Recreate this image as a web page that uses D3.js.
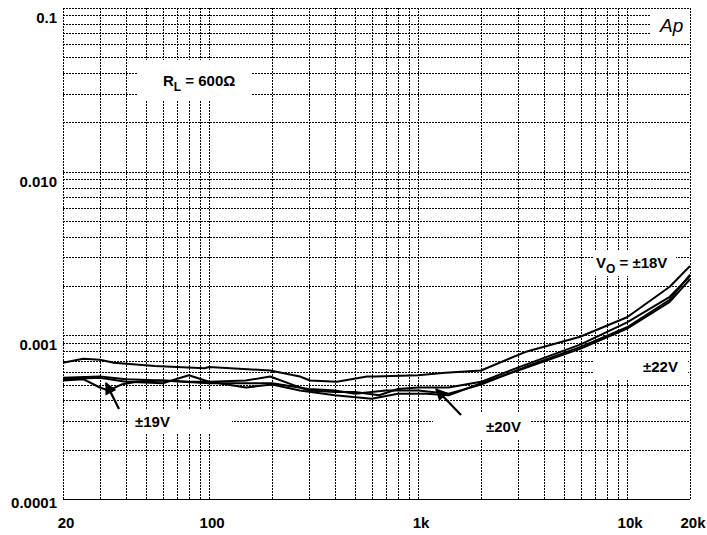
<!DOCTYPE html>
<html>
<head>
<meta charset="utf-8">
<script src="https://cdn.jsdelivr.net/npm/d3@7"></script>
<style>
  body { margin: 0; background: #fff; }
  svg { display: block; font-family: "Liberation Sans", Arial, sans-serif; }
  .grid line { stroke: #000; stroke-width: 1; stroke-dasharray: 1.5,1.5; shape-rendering: crispEdges; }
  .tick-label { font-size: 15px; font-weight: bold; fill: #000; }
  .note { font-size: 15px; font-weight: bold; fill: #000; }
  .curve { fill: none; stroke: #000; stroke-width: 2; stroke-linejoin: round; }
</style>
</head>
<body>
<script>
// THD+N vs frequency, RL = 600 ohm, four supply voltages

// frequencies (Hz) and THD+N readings for each supply
const freq18 = [20, 25, 30, 35, 55, 95, 100, 196, 272, 304, 409, 570, 622, 1000, 1350, 2000, 3250, 5960, 10000, 16000, 20000]
const thd18  = [0.00068, 0.00072, 0.00071, 0.00068, 0.00065, 0.00063, 0.00064, 0.00061, 0.00056, 0.00053, 0.00052, 0.00056, 0.00056, 0.00057, 0.00059, 0.00061, 0.00079, 0.00098, 0.00129, 0.00198, 0.00265]

const freq19 = [20, 25, 30, 33, 38, 45, 60, 80, 100, 150, 200, 272, 400, 600, 800, 1100, 1400, 2000, 3250, 6000, 10000, 16000, 20000]
const thd19  = [0.00053, 0.00054, 0.00048, 0.00046, 0.0005, 0.00052, 0.00053, 0.00052, 0.00052, 0.00048, 0.0005, 0.00046, 0.00043, 0.00041, 0.00044, 0.00044, 0.00043, 0.00051, 0.00063, 0.00083, 0.0011, 0.0016, 0.0022]

const freq20 = [20, 30, 40, 60, 80, 100, 150, 196, 250, 300, 400, 500, 650, 800, 1000, 1400, 2000, 3250, 6000, 10000, 16000, 20000]
const thd20  = [0.00054, 0.00055, 0.00052, 0.00051, 0.00057, 0.00052, 0.00053, 0.00056, 0.0005, 0.00046, 0.00045, 0.00045, 0.00043, 0.00047, 0.00048, 0.00048, 0.00052, 0.00066, 0.00088, 0.0012, 0.00172, 0.0023]

const freq22 = [20, 30, 40, 60, 100, 150, 200, 300, 400, 500, 700, 1000, 1400, 2000, 3250, 6000, 10000, 16000, 20000]
const thd22  = [0.00055, 0.00056, 0.00054, 0.00053, 0.00051, 0.00051, 0.00051, 0.00047, 0.00046, 0.00044, 0.00046, 0.00046, 0.00044, 0.0005, 0.00064, 0.00085, 0.00112, 0.00165, 0.00235]

const xTickValues = [20, 100, 1000, 10000, 20000]
const xTickLabels = ["20", "100", "1k", "10k", "20k"]
const yTickValues = [0.1, 0.01, 0.001, 0.0001]
const yTickLabels = ["0.1", "0.010", "0.001", "0.0001"]

const W = 707, H = 535
const margin = {left: 63, top: 8, right: 17, bottom: 36}
const width = W - margin.left - margin.right
const height = H - margin.top - margin.bottom

const svg = d3.select("body").append("svg").attr("width", W).attr("height", H)
const canvas = svg.append("g").attr("transform", `translate(${margin.left},${margin.top})`)

const x = d3.scaleLog().domain([20, 20000]).range([0, width])
const y = d3.scaleLog().domain([0.0001, 0.1]).range([height, 0])
const px = v => Math.round(v) + 0.5

// log grid lines: 1..9 in every decade
const xGrid = []
for (let d = 10; d <= 10000; d *= 10) for (let m = 1; m <= 9; m++) { const v = d * m; if (v >= 20 && v <= 20000) xGrid.push(v) }
xGrid.push(20000)
const yGrid = []
for (let d = 0.0001; d < 0.1; d *= 10) for (let m = 1; m <= 9; m++) yGrid.push(d * m)
yGrid.push(0.1)

const grid = canvas.append("g").attr("class", "grid")
grid.selectAll(".vline").data(xGrid).join("line").attr("class", "vline")
    .attr("x1", d => px(x(d))).attr("x2", d => px(x(d))).attr("y1", 0).attr("y2", height)
grid.selectAll(".hline").data(yGrid).join("line").attr("class", "hline")
    .attr("x1", 0).attr("x2", width).attr("y1", d => px(y(d))).attr("y2", d => px(y(d)))

// white boxes behind annotations (like the analyser plot)
const boxes = [
    {x0: 137, x1: 252, y0: 60, y1: 100},
    {x0: 650, x1: 689, y0: 10, y1: 37},
    {x0: 593, x1: 676, y0: 250, y1: 276},
    {x0: 593, x1: 688, y0: 353, y1: 380},
    {x0: 128, x1: 232, y0: 410, y1: 433},
    {x0: 433, x1: 530, y0: 412, y1: 440}
]
svg.selectAll(".box").data(boxes).join("rect").attr("class", "box")
    .attr("x", d => d.x0).attr("y", d => d.y0)
    .attr("width", d => d.x1 - d.x0).attr("height", d => d.y1 - d.y0)
    .attr("fill", "#fff")

// frame
canvas.append("rect").attr("x", 0.5).attr("y", 0.5).attr("width", width).attr("height", height)
    .attr("fill", "none").attr("stroke", "#000").attr("stroke-dasharray", "1.5,1.5")
    .attr("shape-rendering", "crispEdges")

const line = d3.line().x(d => x(d[0])).y(d => y(d[1]))
const series = [
    d3.zip(freq18, thd18),
    d3.zip(freq19, thd19),
    d3.zip(freq20, thd20),
    d3.zip(freq22, thd22)
]
canvas.selectAll(".curve").data(series).join("path").attr("class", "curve").attr("d", line)

// tick labels
svg.selectAll(".ylab").data(yTickValues).join("text").attr("class", "tick-label ylab")
    .attr("x", margin.left - 6)
    .attr("y", (d, i) => margin.top + y(d) + (i == yTickValues.length - 1 ? 9 : 15))
    .attr("text-anchor", "end")
    .text((d, i) => yTickLabels[i])

svg.selectAll(".xlab").data(xTickValues).join("text").attr("class", "tick-label xlab")
    .attr("x", d => margin.left + x(d) + 3)
    .attr("y", H - 7)
    .attr("text-anchor", "middle")
    .text((d, i) => xTickLabels[i])

// annotations
const rl = svg.append("text").attr("class", "note").attr("x", 163).attr("y", 86)
rl.append("tspan").text("R")
rl.append("tspan").attr("font-size", "12px").attr("dy", 5).text("L")
rl.append("tspan").attr("dy", -5).text(" = 600Ω")

const vo = svg.append("text").attr("class", "note").attr("x", 596).attr("y", 268)
vo.append("tspan").text("V")
vo.append("tspan").attr("font-size", "12px").attr("dy", 5).text("O")
vo.append("tspan").attr("dy", -5).text(" = ±18V")

svg.append("text").attr("class", "note").attr("x", 643).attr("y", 372).text("±22V")
svg.append("text").attr("class", "note").attr("x", 135).attr("y", 427).text("±19V")
svg.append("text").attr("class", "note").attr("x", 486).attr("y", 432).text("±20V")

svg.append("text").attr("x", 660).attr("y", 32).attr("font-size", "19px")
    .attr("font-style", "italic").text("Ap")

// arrows
svg.append("defs").append("marker").attr("id", "head")
    .attr("viewBox", "0 0 10 10").attr("refX", 9).attr("refY", 5)
    .attr("markerWidth", 7).attr("markerHeight", 5.5).attr("orient", "auto")
    .append("path").attr("d", "M0,0 L10,5 L0,10 Z").attr("fill", "#000")

const arrows = [
    {from: [119, 409], to: [106, 383]},
    {from: [461, 415], to: [436, 389]}
]
svg.selectAll(".arrow").data(arrows).join("line").attr("class", "arrow")
    .attr("x1", d => d.from[0]).attr("y1", d => d.from[1])
    .attr("x2", d => d.to[0]).attr("y2", d => d.to[1])
    .attr("stroke", "#000").attr("stroke-width", 2.2).attr("marker-end", "url(#head)")
</script>
</body>
</html>
